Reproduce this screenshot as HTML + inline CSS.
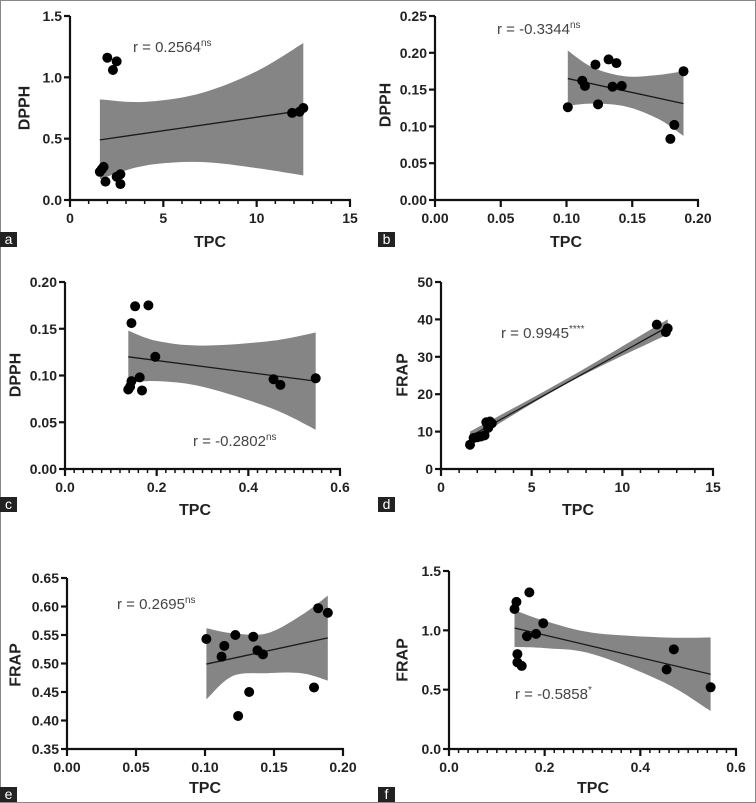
<!DOCTYPE html>
<html><head><meta charset="utf-8">
<style>
body{margin:0;background:#fff;}
#wrap{position:relative;width:756px;height:803px;overflow:hidden;}
svg text{font-family:"Liberation Sans",Arial,sans-serif;}
</style></head>
<body>
<div id="wrap">
<svg id="fig" width="756" height="803" viewBox="0 0 756 803">
<rect x="0.5" y="0.5" width="755" height="802" fill="#fff" stroke="#888" stroke-width="1"/>
</svg>
</div>
<script>
// Panel a
const aX=[1.6,1.7,1.8,1.9,2.0,2.3,2.5,2.5,2.7,2.7,11.9,12.3,12.5];
const aY=[0.23,0.25,0.27,0.15,1.16,1.06,1.13,0.19,0.21,0.13,0.71,0.72,0.75];
const aLine=[[1.6,0.49],[12.5,0.73]];
const aBandX=[1.6,4,7,10,12.5];
const aBandHi=[0.82,0.80,0.87,1.05,1.28];
const aBandLo=[0.17,0.28,0.31,0.26,0.20];
const aXTicks=[0,5,10,15], aYTicks=[0,0.5,1.0,1.5];
const aXLabels=["0","5","10","15"], aYLabels=["0.0","0.5","1.0","1.5"];
// Panel b
const bX=[0.101,0.112,0.114,0.122,0.124,0.132,0.135,0.138,0.142,0.179,0.182,0.189];
const bY=[0.126,0.162,0.155,0.184,0.130,0.191,0.154,0.186,0.155,0.083,0.102,0.175];
const bLine=[[0.101,0.165],[0.189,0.131]];
const bBandX=[0.101,0.12,0.145,0.17,0.189];
const bBandHi=[0.203,0.180,0.168,0.170,0.175];
const bBandLo=[0.128,0.131,0.127,0.110,0.087];
const bXTicks=[0,0.05,0.10,0.15,0.20], bYTicks=[0,0.05,0.10,0.15,0.20,0.25];
const bXLabels=["0.00","0.05","0.10","0.15","0.20"], bYLabels=["0.00","0.05","0.10","0.15","0.20","0.25"];
// Panel c
const cX=[0.138,0.142,0.145,0.145,0.153,0.163,0.168,0.182,0.197,0.455,0.470,0.547];
const cY=[0.085,0.088,0.094,0.156,0.174,0.098,0.084,0.175,0.120,0.096,0.090,0.097];
const cLine=[[0.138,0.120],[0.547,0.094]];
const cBandX=[0.138,0.2,0.3,0.45,0.547];
const cBandHi=[0.148,0.137,0.132,0.137,0.146];
const cBandLo=[0.092,0.094,0.088,0.065,0.042];
const cXTicks=[0,0.2,0.4,0.6], cYTicks=[0,0.05,0.10,0.15,0.20];
const cXLabels=["0.0","0.2","0.4","0.6"], cYLabels=["0.00","0.05","0.10","0.15","0.20"];
// Panel d
const dX=[1.6,1.8,2.0,2.2,2.4,2.5,2.6,2.7,2.8,11.9,12.4,12.5];
const dY=[6.5,8.3,8.5,8.7,9.0,12.5,11.0,12.7,12.2,38.6,36.6,37.6];
const dLine=[[1.6,8.7],[12.5,38.0]];
const dBandX=[1.6,7,12.5];
const dBandHi=[10.0,24.3,40.0];
const dBandLo=[7.4,23.0,36.0];
const dXTicks=[0,5,10,15], dYTicks=[0,10,20,30,40,50];
const dXLabels=["0","5","10","15"], dYLabels=["0","10","20","30","40","50"];
// Panel e
const eX=[0.101,0.112,0.114,0.122,0.124,0.132,0.135,0.138,0.142,0.179,0.182,0.189];
const eY=[0.543,0.512,0.531,0.550,0.408,0.450,0.547,0.523,0.516,0.458,0.597,0.589];
const eLine=[[0.101,0.499],[0.189,0.545]];
const eBandX=[0.101,0.12,0.145,0.17,0.189];
const eBandHi=[0.562,0.553,0.553,0.585,0.619];
const eBandLo=[0.437,0.478,0.483,0.483,0.470];
const eXTicks=[0,0.05,0.10,0.15,0.20], eYTicks=[0.35,0.40,0.45,0.50,0.55,0.60,0.65];
const eXLabels=["0.00","0.05","0.10","0.15","0.20"], eYLabels=["0.35","0.40","0.45","0.50","0.55","0.60","0.65"];
// Panel f
const fX=[0.137,0.141,0.143,0.143,0.152,0.163,0.168,0.182,0.197,0.455,0.470,0.547];
const fY=[1.18,1.24,0.80,0.73,0.70,0.95,1.32,0.97,1.06,0.67,0.84,0.52];
const fLine=[[0.137,1.02],[0.547,0.63]];
const fBandX=[0.137,0.2,0.3,0.45,0.547];
const fBandHi=[1.17,1.08,0.98,0.94,0.94];
const fBandLo=[0.86,0.85,0.80,0.56,0.32];
const fXTicks=[0,0.2,0.4,0.6], fYTicks=[0,0.5,1.0,1.5];
const fXLabels=["0.0","0.2","0.4","0.6"], fYLabels=["0.0","0.5","1.0","1.5"];

const NS="http://www.w3.org/2000/svg";
const svg=document.getElementById('fig');
function mk(tag,attrs,parent){const e=document.createElementNS(NS,tag);for(const k in attrs)e.setAttribute(k,attrs[k]);(parent||svg).appendChild(e);return e;}

const panels=[
 {id:'a',px0:70,px1:350,py0:200,py1:16,xmin:0,xmax:15,ymin:0,ymax:1.5,X:aX,Y:aY,L:aLine,BX:aBandX,BH:aBandHi,BL:aBandLo,xt:aXTicks,yt:aYTicks,xl:aXLabels,yl:aYLabels,minor:1,yTitle:'DPPH',ytx:25,yty:108,xtx:210,xty:247,r:'0.2564',sup:'ns',rx:133,ry:52,lbx:0,lby:232},
 {id:'b',px0:435,px1:698,py0:200,py1:16,xmin:0,xmax:0.2,ymin:0,ymax:0.25,X:bX,Y:bY,L:bLine,BX:bBandX,BH:bBandHi,BL:bBandLo,xt:bXTicks,yt:bYTicks,xl:bXLabels,yl:bYLabels,minor:0,yTitle:'DPPH',ytx:386,yty:105,xtx:566,xty:247,r:'-0.3344',sup:'ns',rx:497,ry:34,lbx:378,lby:232},
 {id:'c',px0:65,px1:340,py0:469,py1:282,xmin:0,xmax:0.6,ymin:0,ymax:0.2,X:cX,Y:cY,L:cLine,BX:cBandX,BH:cBandHi,BL:cBandLo,xt:cXTicks,yt:cYTicks,xl:cXLabels,yl:cYLabels,minor:0.02,yTitle:'DPPH',ytx:16,yty:375,xtx:195,xty:515,r:'-0.2802',sup:'ns',rx:193,ry:446,lbx:0,lby:497},
 {id:'d',px0:441,px1:713,py0:469,py1:282,xmin:0,xmax:15,ymin:0,ymax:50,X:dX,Y:dY,L:dLine,BX:dBandX,BH:dBandHi,BL:dBandLo,xt:dXTicks,yt:dYTicks,xl:dXLabels,yl:dYLabels,minor:1,yTitle:'FRAP',ytx:403,yty:375,xtx:578,xty:515,r:'0.9945',sup:'****',rx:501,ry:338,lbx:378,lby:497},
 {id:'e',px0:67,px1:343,py0:749,py1:578,xmin:0,xmax:0.2,ymin:0.35,ymax:0.65,X:eX,Y:eY,L:eLine,BX:eBandX,BH:eBandHi,BL:eBandLo,xt:eXTicks,yt:eYTicks,xl:eXLabels,yl:eYLabels,minor:0,yTitle:'FRAP',ytx:16,yty:665,xtx:205,xty:793,r:'0.2695',sup:'ns',rx:117,ry:609,lbx:0,lby:787},
 {id:'f',px0:449,px1:736,py0:749,py1:571,xmin:0,xmax:0.6,ymin:0,ymax:1.5,X:fX,Y:fY,L:fLine,BX:fBandX,BH:fBandHi,BL:fBandLo,xt:fXTicks,yt:fYTicks,xl:fXLabels,yl:fYLabels,minor:0.02,yTitle:'FRAP',ytx:403,yty:660,xtx:593,xty:793,r:'-0.5858',sup:'*',rx:515,ry:699,lbx:378,lby:787}
];

function smooth(pts){let d='';for(let i=0;i<pts.length;i++){d+=(i?'L':'M')+pts[i][0].toFixed(1)+','+pts[i][1].toFixed(1);}return d;}
function curve(xs,ys,sx,sy){
  const P=xs.map((x,i)=>[sx(x),sy(ys[i])]);let out=[P[0]];
  for(let i=0;i<P.length-1;i++){const p0=P[Math.max(0,i-1)],p1=P[i],p2=P[i+1],p3=P[Math.min(P.length-1,i+2)];
    for(let t=0.1;t<=1.001;t+=0.1){const t2=t*t,t3=t2*t;
      const x=0.5*((2*p1[0])+(-p0[0]+p2[0])*t+(2*p0[0]-5*p1[0]+4*p2[0]-p3[0])*t2+(-p0[0]+3*p1[0]-3*p2[0]+p3[0])*t3);
      const y=0.5*((2*p1[1])+(-p0[1]+p2[1])*t+(2*p0[1]-5*p1[1]+4*p2[1]-p3[1])*t2+(-p0[1]+3*p1[1]-3*p2[1]+p3[1])*t3);
      out.push([x,y]);}}
  return out;}

panels.forEach(p=>{
  const sx=v=>p.px0+(v-p.xmin)/(p.xmax-p.xmin)*(p.px1-p.px0);
  const sy=v=>p.py0+(v-p.ymin)/(p.ymax-p.ymin)*(p.py1-p.py0);
  const g=mk('g',{});
  
  
  const hi=curve(p.BX,p.BH,sx,sy), lo=curve(p.BX,p.BL,sx,sy).reverse();
  const band=mk('path',{d:smooth(hi.concat(lo))+'Z',fill:'#858585',stroke:'none'},g);
  
  
  const ln=mk('line',{x1:sx(p.L[0][0]),y1:sy(p.L[0][1]),x2:sx(p.L[1][0]),y2:sy(p.L[1][1]),stroke:'#1a1a1a','stroke-width':1.3},g);
  
  
  p.X.forEach((x,i)=>{const c=mk('circle',{cx:sx(x),cy:sy(p.Y[i]),r:5,fill:'#000'},g);
    
    });
  const ax=mk('g',{stroke:'#111','stroke-width':2.2,fill:'none'},g);
  
  
  mk('line',{x1:p.px0,y1:p.py0,x2:p.px1+1,y2:p.py0},ax);
  mk('line',{x1:p.px0,y1:p.py0+1,x2:p.px0,y2:p.py1},ax);
  p.xt.forEach((t,i)=>{const x=sx(t);mk('line',{x1:x,y1:p.py0,x2:x,y2:p.py0+7},ax);
    const tx=mk('text',{x:x,y:p.py0+23,'text-anchor':'middle','font-size':14,'font-weight':'bold',fill:'#222',stroke:'none'},g);tx.textContent=p.xl[i];
    
    });
  if(p.minor){const n=Math.round((p.xmax-p.xmin)/p.minor);for(let k=1;k<n;k++){const v=p.xmin+k*p.minor;if(p.xt.some(t=>Math.abs(t-v)<1e-9))continue;const x=sx(v);mk('line',{x1:x,y1:p.py0,x2:x,y2:p.py0+4,'stroke-width':1.5},ax);}}
  p.yt.forEach((t,i)=>{const y=sy(t);mk('line',{x1:p.px0-6,y1:y,x2:p.px0,y2:y},ax);
    const tx=mk('text',{x:p.px0-8,y:y+5,'text-anchor':'end','font-size':14,'font-weight':'bold',fill:'#222',stroke:'none'},g);tx.textContent=p.yl[i];
    
    });
  const xt=mk('text',{x:p.xtx,y:p.xty,'text-anchor':'middle','font-size':16,'font-weight':'bold',fill:'#222'},g);xt.textContent='TPC';
  
  
  const yt=mk('text',{x:p.ytx,y:p.yty,'text-anchor':'middle','font-size':16,'font-weight':'bold',fill:'#222',transform:'rotate(-90 '+p.ytx+' '+p.yty+')','dominant-baseline':'central'},g);yt.textContent=p.yTitle;
  
  
  const rt=mk('text',{x:p.rx,y:p.ry,'font-size':15,fill:'#444'},g);
  rt.textContent='r = '+p.r;
  const sp=mk('tspan',{dy:-6,'font-size':10},rt);sp.textContent=p.sup;
  
  
  const lb=mk('rect',{x:p.lbx,y:p.lby,width:17,height:15,fill:'#222'},g);
  
  
  const lt=mk('text',{x:p.lbx+8.5,y:p.lby+12,'text-anchor':'middle','font-size':14,fill:'#fff'},g);lt.textContent=p.id;
  
  
});
</script>
</body></html>
